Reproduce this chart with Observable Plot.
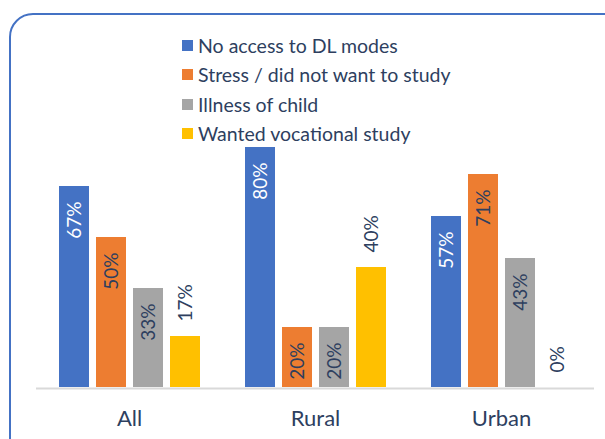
<!DOCTYPE html>
<html>
<head>
<meta charset="utf-8">
<script src="https://cdn.jsdelivr.net/npm/d3@7"></script>
<script src="https://cdn.jsdelivr.net/npm/@observablehq/plot@0.6"></script>
<style>
  html, body { margin: 0; padding: 0; background: #fff; }
  #wrap { position: relative; width: 605px; height: 439px; overflow: hidden; font-family: Lato, sans-serif; }
  #border { position: absolute; left: 9px; top: 13px; width: 640px; height: 470px; border: 2px solid #4472C4; border-radius: 24px; box-sizing: border-box; }
  #chart { position: absolute; left: 0; top: 0; }
  #legend { position: absolute; left: 182px; top: 31px; color: #2E3F5F; font-size: 19.5px; }
  .row { display: flex; align-items: center; height: 29.3px; white-space: nowrap; }
  .sw { width: 11px; height: 11px; margin-right: 5px; flex: none; }
</style>
</head>
<body>
<div id="wrap">
  <div id="border"></div>
  <div id="chart"></div>
  <div id="legend"></div>
</div>
<script>
const categories = ["All", "Rural", "Urban"];
const series = ["No access to DL modes", "Stress / did not want to study", "Illness of child", "Wanted vocational study"];
const noAccess = [67, 80, 57];
const stress = [50, 20, 71];
const illness = [33, 20, 43];
const vocational = [17, 40, 0];

const colors = ["#4472C4", "#ED7D31", "#A5A5A5", "#FFC000"];
const textColor = "#2E3F5F";

const valuesBySeries = [noAccess, stress, illness, vocational];
const data = categories.flatMap((c, i) =>
  series.map((s, j) => ({category: c, series: s, value: valuesBySeries[j][i]}))
);
const fmt = d => d.value + "%";

const chart = Plot.plot({
  width: 605,
  height: 439,
  marginLeft: 36,
  marginRight: 11,
  marginTop: 87,
  marginBottom: 52,
  style: {fontFamily: "Lato, sans-serif", fontSize: "22px", color: textColor, background: "transparent"},
  fx: {domain: categories, padding: 0, label: null, tickSize: 0, tickPadding: 23},
  x: {domain: series, axis: null, paddingInner: 0.2, paddingOuter: 0.587},
  y: {domain: [0, 100], axis: null},
  color: {domain: series, range: colors},
  marks: [
    Plot.barY(data, {fx: "category", x: "series", y: "value", fill: "series"}),
    Plot.ruleY([0], {stroke: "#D9D9D9", strokeWidth: 2, dy: 1}),
    Plot.text(data.filter(d => d.series === series[0]), {
      fx: "category", x: "series", y: "value", text: fmt, rotate: -90,
      textAnchor: "end", dy: 15, fill: "white", fontSize: 19
    }),
    Plot.text(data.filter(d => d.series === series[1] || d.series === series[2]), {
      fx: "category", x: "series", y: "value", text: fmt, rotate: -90,
      textAnchor: "end", dy: 15, fill: textColor, fontSize: 19
    }),
    Plot.text(data.filter(d => d.series === series[3]), {
      fx: "category", x: "series", y: "value", text: fmt, rotate: -90,
      textAnchor: "start", dy: -15, fill: textColor, fontSize: 19
    })
  ]
});
document.getElementById("chart").appendChild(chart);

const legend = document.getElementById("legend");
series.forEach((s, i) => {
  const row = document.createElement("div");
  row.className = "row";
  const sw = document.createElement("span");
  sw.className = "sw";
  sw.style.background = colors[i];
  const label = document.createElement("span");
  label.textContent = s;
  row.appendChild(sw);
  row.appendChild(label);
  legend.appendChild(row);
});
</script>
</body>
</html>
